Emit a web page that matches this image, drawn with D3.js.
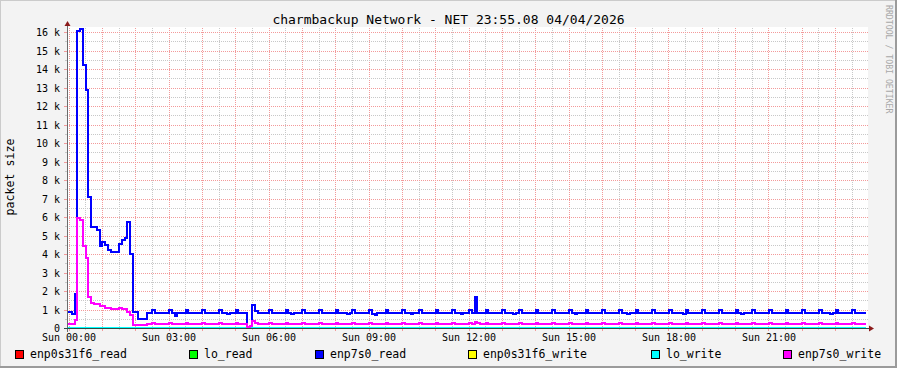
<!DOCTYPE html>
<html>
<head>
<meta charset="utf-8">
<script src="https://cdn.jsdelivr.net/npm/d3@7"></script>
<style>
    html, body { margin: 0; padding: 0; background: #f3f3f3; }
    svg { display: block; font-family: "DejaVu Sans Mono", monospace; }
</style>
</head>
<body>
<div id="chart"></div>
<script>
// chart texts
const title = "charmbackup Network - NET 23:55.08 04/04/2026";
const yLabel = "packet size";
const watermark = "RRDTOOL / TOBI OETIKER";

// series, in rrdtool draw order
const seriesNames = ["enp0s31f6_read", "lo_read", "enp7s0_read", "enp0s31f6_write", "lo_write", "enp7s0_write"];
const seriesColors = ["#ff0000", "#00ff00", "#0000ff", "#ffff00", "#00ffff", "#ff00ff"];

// axis ticks
const xTickMinutes = [0, 180, 360, 540, 720, 900, 1080, 1260];
const xTickLabels = ["Sun 00:00", "Sun 03:00", "Sun 06:00", "Sun 09:00", "Sun 12:00", "Sun 15:00", "Sun 18:00", "Sun 21:00"];
const yTickValues = [0, 1000, 2000, 3000, 4000, 5000, 6000, 7000, 8000, 9000, 10000, 11000, 12000, 13000, 14000, 15000, 16000];

// one sample every 5 minutes, one row per hour
const stepMinutes = 5;

const enp7s0Read = [
    880, 880, 760, 1840, 16050, 16150, 14250, 12850, 7100, 5450, 5450, 5300,
    4450, 4670, 4500, 4220, 4130, 4130, 4130, 4550, 4760, 4890, 5750, 3990,
    880, 880, 500, 500, 500, 830, 830, 970, 830, 830, 830, 830,
    830, 970, 830, 660, 830, 830, 830, 970, 830, 830, 830, 830,
    830, 970, 830, 830, 830, 830, 830, 970, 830, 830, 770, 830,
    830, 970, 830, 830, 790, 40, 100, 1230, 940, 830, 830, 830,
    830, 970, 830, 830, 830, 830, 830, 970, 830, 770, 830, 830,
    830, 970, 830, 830, 830, 830, 830, 970, 830, 830, 830, 830,
    830, 970, 830, 830, 830, 770, 830, 970, 830, 830, 830, 830,
    830, 970, 760, 690, 830, 830, 830, 970, 830, 830, 830, 830,
    830, 970, 830, 830, 770, 830, 830, 970, 830, 830, 830, 830,
    830, 970, 830, 830, 830, 830, 830, 970, 830, 830, 770, 830,
    830, 970, 830, 1660, 830, 830, 830, 970, 830, 830, 830, 830,
    830, 970, 830, 830, 830, 770, 830, 970, 830, 830, 830, 830,
    830, 970, 830, 830, 830, 830, 830, 970, 830, 830, 830, 830,
    830, 970, 830, 770, 830, 830, 830, 970, 830, 830, 830, 830,
    830, 970, 830, 830, 830, 830, 830, 970, 830, 830, 770, 830,
    830, 970, 830, 830, 830, 830, 830, 970, 830, 830, 830, 830,
    830, 970, 830, 830, 830, 830, 770, 970, 830, 830, 830, 830,
    830, 970, 830, 830, 830, 830, 830, 970, 830, 830, 830, 830,
    830, 970, 830, 770, 830, 830, 830, 970, 830, 830, 830, 830,
    830, 970, 830, 830, 830, 830, 830, 970, 830, 830, 830, 830,
    830, 970, 830, 830, 830, 830, 830, 970, 830, 830, 830, 770,
    830, 970, 830, 830, 830, 830, 830, 970, 830, 830, 830, 830
];

const enp7s0Write = [
    220, 220, 220, 430, 5970, 5840, 4440, 3800, 1700, 1370, 1300, 1300,
    1190, 1190, 1100, 1070, 1030, 1030, 1030, 1100, 1010, 1010, 880, 700,
    170, 170, 170, 170, 170, 215, 215, 250, 215, 215, 215, 215,
    215, 250, 215, 215, 215, 215, 215, 250, 215, 215, 215, 215,
    215, 250, 215, 215, 215, 215, 215, 250, 215, 215, 215, 215,
    215, 250, 215, 215, 190, 40, 90, 400, 290, 215, 215, 215,
    215, 250, 215, 215, 215, 215, 215, 250, 215, 215, 215, 215,
    215, 250, 215, 215, 215, 215, 215, 250, 215, 215, 215, 215,
    215, 250, 215, 215, 215, 215, 215, 250, 215, 215, 215, 215,
    215, 250, 215, 215, 215, 215, 215, 250, 215, 215, 215, 215,
    215, 250, 215, 215, 215, 215, 215, 250, 215, 215, 215, 215,
    215, 250, 215, 215, 215, 215, 215, 250, 215, 215, 215, 215,
    215, 250, 215, 300, 270, 215, 215, 250, 215, 215, 215, 215,
    215, 250, 215, 215, 215, 215, 215, 250, 215, 215, 215, 215,
    215, 250, 215, 215, 215, 215, 215, 250, 215, 215, 215, 215,
    215, 250, 215, 215, 215, 215, 215, 250, 215, 215, 215, 215,
    215, 250, 215, 215, 215, 215, 215, 250, 215, 215, 215, 215,
    215, 250, 215, 215, 215, 215, 215, 250, 215, 215, 215, 215,
    215, 250, 215, 215, 215, 215, 215, 250, 215, 215, 215, 215,
    215, 250, 215, 215, 215, 215, 215, 250, 215, 215, 215, 215,
    215, 250, 215, 215, 215, 215, 215, 250, 215, 215, 215, 215,
    215, 250, 215, 215, 215, 215, 215, 250, 215, 215, 215, 215,
    215, 250, 215, 215, 215, 215, 215, 250, 215, 215, 215, 215,
    215, 250, 215, 215, 215, 215, 215, 250, 215, 215, 215, 215
];

// the idle interfaces sit at zero all day
const idleZero = [
    0, 0, 0, 0, 0, 0, 0, 0, 0, 0, 0, 0, 0, 0, 0, 0, 0, 0, 0, 0, 0, 0, 0, 0,
    0, 0, 0, 0, 0, 0, 0, 0, 0, 0, 0, 0, 0, 0, 0, 0, 0, 0, 0, 0, 0, 0, 0, 0,
    0, 0, 0, 0, 0, 0, 0, 0, 0, 0, 0, 0, 0, 0, 0, 0, 0, 0, 0, 0, 0, 0, 0, 0,
    0, 0, 0, 0, 0, 0, 0, 0, 0, 0, 0, 0, 0, 0, 0, 0, 0, 0, 0, 0, 0, 0, 0, 0,
    0, 0, 0, 0, 0, 0, 0, 0, 0, 0, 0, 0, 0, 0, 0, 0, 0, 0, 0, 0, 0, 0, 0, 0,
    0, 0, 0, 0, 0, 0, 0, 0, 0, 0, 0, 0, 0, 0, 0, 0, 0, 0, 0, 0, 0, 0, 0, 0,
    0, 0, 0, 0, 0, 0, 0, 0, 0, 0, 0, 0, 0, 0, 0, 0, 0, 0, 0, 0, 0, 0, 0, 0,
    0, 0, 0, 0, 0, 0, 0, 0, 0, 0, 0, 0, 0, 0, 0, 0, 0, 0, 0, 0, 0, 0, 0, 0,
    0, 0, 0, 0, 0, 0, 0, 0, 0, 0, 0, 0, 0, 0, 0, 0, 0, 0, 0, 0, 0, 0, 0, 0,
    0, 0, 0, 0, 0, 0, 0, 0, 0, 0, 0, 0, 0, 0, 0, 0, 0, 0, 0, 0, 0, 0, 0, 0,
    0, 0, 0, 0, 0, 0, 0, 0, 0, 0, 0, 0, 0, 0, 0, 0, 0, 0, 0, 0, 0, 0, 0, 0,
    0, 0, 0, 0, 0, 0, 0, 0, 0, 0, 0, 0, 0, 0, 0, 0, 0, 0, 0, 0, 0, 0, 0, 0
];

const seriesValues = [idleZero, idleZero, enp7s0Read, idleZero, idleZero, enp7s0Write];

// layout
const W = 897, H = 368;
const plot = { left: 67, right: 867, top: 28, bottom: 328 };
const legendX = [15, 189, 315, 468, 651, 783];

const svg = d3.select("#chart").append("svg")
    .attr("width", W)
    .attr("height", H);

// background + rrdtool style frame
svg.append("rect").attr("width", W).attr("height", H).attr("fill", "#f3f3f3");
svg.append("rect").attr("x", 0).attr("y", 0).attr("width", W).attr("height", 1).attr("fill", "#cbcbcb");
svg.append("rect").attr("x", 0).attr("y", 0).attr("width", 1).attr("height", H).attr("fill", "#cbcbcb");
svg.append("rect").attr("x", 0).attr("y", H - 2).attr("width", W).attr("height", 2).attr("fill", "#9b9b9b");
svg.append("rect").attr("x", W - 2).attr("y", 0).attr("width", 2).attr("height", H).attr("fill", "#9b9b9b");

// canvas
svg.append("rect")
    .attr("x", plot.left).attr("y", plot.top - 1)
    .attr("width", plot.right - plot.left + 1).attr("height", plot.bottom - plot.top + 1)
    .attr("fill", "#ffffff");

// scales (x in minutes since Sun 00:00)
const x = d3.scaleLinear().domain([-3.6, 1436.4]).range([plot.left, plot.right]);
const y = d3.scaleLinear().domain([0, 16230]).range([plot.bottom, plot.top]);

const px = v => Math.floor(x(v)) + 0.5;
const py = v => Math.round(y(v)) + 0.5;

const minorColor = "#c8c8c8";
const majorColor = "#f39a9a";

// vertical grid: every 30 min, hours are major
const grid = svg.append("g").attr("shape-rendering", "crispEdges");
d3.range(0, 1440, 30).forEach(m => {
    const major = m % 60 === 0;
    const gx = px(m);
    grid.append("line")
        .attr("x1", gx).attr("x2", gx)
        .attr("y1", plot.top).attr("y2", plot.bottom)
        .attr("stroke", major ? majorColor : minorColor)
        .attr("stroke-dasharray", "1,1");
    grid.append("line")
        .attr("x1", gx).attr("x2", gx)
        .attr("y1", plot.bottom).attr("y2", plot.bottom + (major ? 3 : 2))
        .attr("stroke", major ? majorColor : minorColor);
});

// horizontal grid: every 500, thousands are major
d3.range(500, 16500, 500).forEach(v => {
    const major = v % 1000 === 0;
    const gy = py(v);
    grid.append("line")
        .attr("x1", plot.left).attr("x2", plot.right + (major ? 2 : 1))
        .attr("y1", gy).attr("y2", gy)
        .attr("stroke", major ? majorColor : minorColor)
        .attr("stroke-dasharray", "1,1");
    grid.append("line")
        .attr("x1", plot.left - (major ? 3 : 2)).attr("x2", plot.left)
        .attr("y1", gy).attr("y2", gy)
        .attr("stroke", major ? majorColor : minorColor);
});

// data lines, rrdtool style steps (value covers the 5 minutes before its stamp)
const line = d3.line()
    .x(d => Math.round(x(d.t)))
    .y(d => Math.round(y(d.v)))
    .curve(d3.curveStepBefore);

seriesValues.forEach((vals, s) => {
    const pts = [{ t: x.domain()[0], v: vals[0] }]
        .concat(vals.map((v, i) => ({ t: i * stepMinutes, v: v })));
    svg.append("path")
        .datum(pts)
        .attr("d", line)
        .attr("fill", "none")
        .attr("stroke", seriesColors[s])
        .attr("stroke-width", 2)
        .attr("shape-rendering", "crispEdges");
});

// axes with arrows
const axisColor = "#2c4d43";
const axes = svg.append("g").attr("shape-rendering", "crispEdges");
axes.append("line")
    .attr("x1", plot.left + 0.5).attr("x2", plot.left + 0.5)
    .attr("y1", plot.bottom + 4).attr("y2", plot.top - 4)
    .attr("stroke", "#6b6b6b");
axes.append("line")
    .attr("x1", plot.left - 3).attr("x2", plot.right + 4)
    .attr("y1", plot.bottom + 0.5).attr("y2", plot.bottom + 0.5)
    .attr("stroke", axisColor);
svg.append("path")
    .attr("d", `M${plot.left - 2.5},${plot.top - 2} L${plot.left + 3.5},${plot.top - 2} L${plot.left + 0.5},${plot.top - 7} Z`)
    .attr("fill", "#8b1a1a");
svg.append("path")
    .attr("d", `M${plot.right + 2},${plot.bottom - 2.5} L${plot.right + 2},${plot.bottom + 3.5} L${plot.right + 7},${plot.bottom + 0.5} Z`)
    .attr("fill", "#8b1a1a");

// tick labels
svg.append("g").selectAll("text")
    .data(yTickValues)
    .enter()
    .append("text")
    .attr("x", 60)
    .attr("y", d => Math.round(y(d)) + 3.5)
    .attr("text-anchor", "end")
    .attr("font-size", "10px")
    .attr("fill", "#000")
    .text(d => d === 0 ? "0" : (d / 1000) + " k");

svg.append("g").selectAll("text")
    .data(xTickMinutes)
    .enter()
    .append("text")
    .attr("x", d => x(d))
    .attr("y", 341)
    .attr("text-anchor", "middle")
    .attr("font-size", "10px")
    .attr("fill", "#000")
    .text((d, i) => xTickLabels[i]);

// title, unit label, watermark
svg.append("text")
    .attr("x", W / 2).attr("y", 24)
    .attr("text-anchor", "middle")
    .attr("font-size", "13px")
    .attr("fill", "#000")
    .text(title);

svg.append("text")
    .attr("transform", "translate(14,177) rotate(-90)")
    .attr("text-anchor", "middle")
    .attr("font-size", "11.6px")
    .attr("fill", "#000")
    .text(yLabel);

svg.append("text")
    .attr("transform", "translate(886,5) rotate(90)")
    .attr("font-size", "8.2px")
    .attr("fill", "#a8a8a8")
    .text(watermark);

// legend
const legend = svg.append("g").selectAll("g")
    .data(seriesNames)
    .enter()
    .append("g")
    .attr("transform", (d, i) => `translate(${legendX[i]},350)`);

legend.append("rect")
    .attr("x", 0.5).attr("y", 0.5)
    .attr("width", 8).attr("height", 8)
    .attr("fill", (d, i) => seriesColors[i])
    .attr("stroke", "#000")
    .attr("shape-rendering", "crispEdges");

legend.append("text")
    .attr("x", 15).attr("y", 7.5)
    .attr("font-size", "11.5px")
    .attr("fill", "#000")
    .text(d => d);
</script>
</body>
</html>
